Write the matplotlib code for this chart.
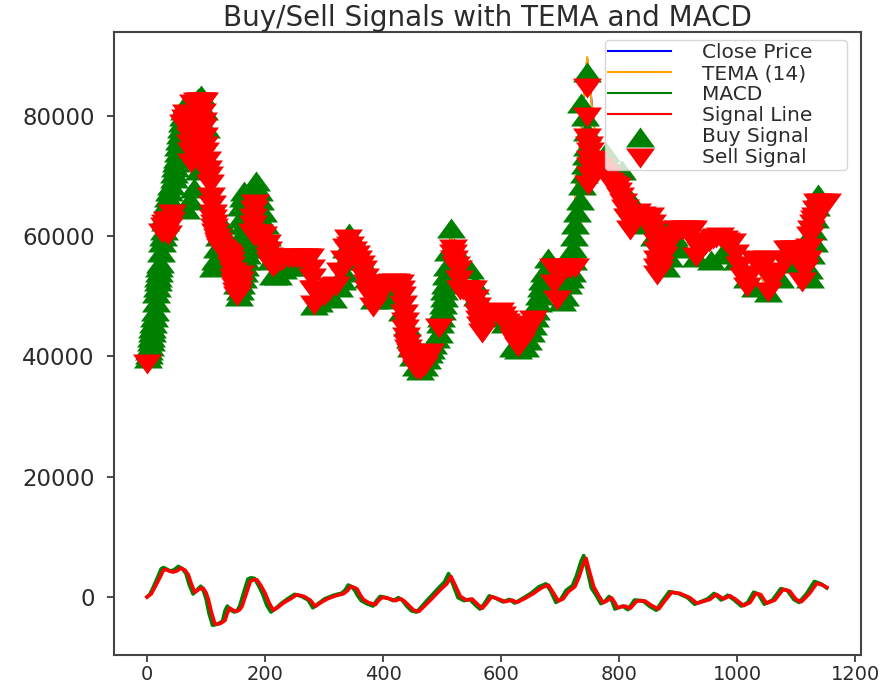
import matplotlib
matplotlib.use("Agg")
import matplotlib.pyplot as plt

close_pts = [(0,39000),(10,45500),(20,54000),(30,62000),(45,69600),(60,79000),(75,82000),(91,83500),(100,78000),(107,69000),(115,60500),(135,57200),(152,50000),(165,56000),(175,63000),(185,67000),(200,58700),(214,54800),(231,54500),(254,56300),(276,56300),(283,48500),(300,50000),(321,51800),(344,58400),(366,54300),(383,48200),(406,52100),(429,52100),(440,42000),(463,37700),(480,40600),(495,44700),(515,60000),(530,51000),(553,51000),(567,43900),(598,47400),(612,44900),(629,41600),(654,46000),(680,55500),(695,49400),(717,54700),(728,68700),(746,89500),(760,76000),(774,70500),(796,68200),(819,61000),(830,63800),(853,63200),(864,53500),(883,58000),(900,61000),(925,61000),(930,56500),(971,59800),(991,58900),(1017,51500),(1028,56000),(1053,50700),(1085,57700),(1110,52400),(1132,63200),(1153,65500)]

tema_pts = [(0,38800),(10,45000),(20,54500),(30,62500),(45,70000),(60,79500),(75,82300),(91,84000),(100,77500),(107,68500),(115,60000),(135,57000),(152,49800),(165,56500),(175,63500),(185,67500),(200,58200),(214,54500),(231,54800),(254,56500),(276,56000),(283,48300),(300,50200),(321,52000),(344,58600),(366,54000),(383,48000),(406,52300),(429,52000),(440,41500),(463,37500),(480,41000),(495,45000),(515,60500),(530,50500),(553,51000),(567,43700),(598,47500),(612,44700),(629,41400),(654,46300),(680,56000),(695,49200),(717,55000),(728,69500),(746,89800),(760,75500),(774,70300),(796,68000),(819,60800),(830,64000),(853,63000),(864,53300),(883,58300),(900,61200),(925,60800),(930,56300),(971,60000),(991,58700),(1017,51300),(1028,56200),(1053,50500),(1085,57900),(1110,52200),(1132,63500),(1153,65700)]

macd_pts = [(0,0),(5,500),(10,1500),(18,3300),(24,4700),(28,4900),(34,4600),(40,4300),(47,4600),(53,5100),(60,4700),(66,3900),(71,2200),(78,500),(84,1100),(91,1800),(96,900),(100,-300),(105,-2700),(111,-4700),(120,-4500),(128,-4000),(132,-2300),(136,-1500),(142,-2200),(148,-2500),(153,-2200),(157,-1500),(164,800),(171,3000),(176,3200),(182,3100),(189,1900),(196,500),(203,-1400),(210,-2500),(218,-1900),(227,-1100),(238,-300),(250,450),(262,100),(273,-500),(281,-1800),(290,-1100),(301,-300),(316,300),(330,650),(336,1200),(341,2000),(347,1700),(352,1100),(357,200),(363,-600),(372,-1100),(383,-1500),(389,-600),(395,100),(406,-100),(417,-600),(426,-100),(433,-600),(440,-1500),(448,-2300),(457,-2500),(466,-1500),(477,-300),(494,1500),(504,2500),(511,3900),(518,2200),(527,-100),(537,-600),(547,-400),(556,-1300),(564,-2000),(571,-1200),(580,200),(591,-200),(603,-800),(614,-400),(623,-1000),(637,-200),(651,650),(664,1700),(676,2200),(684,1000),(693,-900),(701,-400),(710,1100),(721,1900),(728,3600),(735,5800),(740,6900),(746,4500),(753,1500),(761,300),(769,-1100),(776,-700),(783,100),(788,-700),(793,-2000),(806,-1500),(815,-2100),(826,-500),(840,-600),(851,-1500),(863,-2200),(873,-700),(885,900),(899,650),(916,-100),(928,-1200),(950,-300),(961,600),(973,-500),(984,300),(995,-500),(1007,-1500),(1018,-900),(1028,800),(1036,500),(1046,-1200),(1060,-500),(1074,1400),(1085,1100),(1096,-400),(1105,-900),(1118,600),(1131,2600),(1142,2200),(1152,1500)]

signal_pts = [(0,0),(7,500),(14,1770),(22,3300),(28,4500),(33,4540),(38,4300),(44,4150),(51,4350),(57,4800),(64,4500),(70,3700),(75,2200),(81,780),(88,1300),(95,1500),(100,700),(104,-440),(109,-2500),(115,-4490),(124,-4400),(132,-3900),(136,-2700),(140,-1830),(146,-2200),(152,-2400),(157,-2100),(161,-1550),(168,500),(175,2600),(180,2850),(186,2880),(193,1900),(200,660),(207,-1000),(214,-2200),(222,-1700),(231,-1000),(243,-300),(254,390),(266,100),(277,-550),(285,-1550),(295,-900),(305,-330),(319,200),(333,550),(340,1100),(345,1770),(351,1600),(356,1330),(361,400),(367,-440),(376,-950),(387,-1270),(393,-500),(399,-55),(410,-250),(421,-610),(430,-280),(437,-750),(444,-1440),(452,-2200),(461,-2380),(470,-1500),(481,-440),(498,1300),(508,2200),(515,3430),(523,1800),(531,110),(541,-500),(551,-330),(560,-1200),(568,-1880),(575,-1100),(584,55),(595,-300),(607,-780),(618,-500),(627,-890),(641,-200),(655,610),(668,1500),(680,2000),(688,800),(697,-660),(705,-300),(714,890),(725,1720),(732,3300),(739,5400),(744,6430),(750,4200),(757,1720),(765,300),(773,-940),(780,-600),(787,-110),(792,-800),(797,-1770),(810,-1500),(819,-1880),(830,-660),(844,-660),(855,-1400),(867,-2000),(877,-700),(889,780),(903,610),(920,-110),(932,-1050),(954,-390),(965,440),(977,-330),(988,220),(999,-500),(1011,-1440),(1022,-900),(1032,610),(1040,400),(1050,-1050),(1064,-500),(1078,1270),(1089,1000),(1100,-400),(1109,-780),(1122,500),(1135,2270),(1145,2000),(1152,1610)]

buy_pts = [(2,39700),(3,40400),(4,41000),(5,41800),(6,42500),(7,43300),(8,44000),(9,44800),(10,45500),(12,46500),(13,47500),(15,49000),(16,50500),(17,51500),(18,52500),(19,53300),(20,54000),(21,54800),(22,55500),(24,57300),(25,59000),(27,60000),(28,61000),(30,62500),(31,63500),(33,64500),(34,65500),(36,66500),(38,67500),(41,68500),(45,69600),(46,70500),(47,71500),(49,72300),(50,73000),(52,74000),(53,75000),(55,76000),(56,77000),(58,78000),(59,79000),(61,80000),(63,81000),(65,81700),(68,82300),(75,82000),(82,82500),(87,83000),(91,83500),(96,81000),(100,78000),(95,74000),(88,71000),(80,68000),(72,66000),(66,64500),
(112,54800),(115,56000),(118,58000),(122,60000),(127,62000),(132,60000),(138,58000),(146,55000),(152,52000),(156,50100),(158,51000),(160,52000),(162,53000),(164,54000),(166,55000),(168,56000),(169,57000),(170,58000),(169,59000),(168,60000),(166,61000),(165,62000),(163,63000),(162,63500),(160,65000),(162,66500),(165,67500),(176,67800),(185,69200),(189,67500),(192,66000),(196,64000),(200,62000),(203,60000),(207,58000),(210,56000),(214,53500),(222,53500),(231,54500),(240,55000),(250,55500),(262,55000),
(283,48500),(292,49000),(300,50000),(315,49800),(325,51500),(330,52800),(333,54000),(335,56000),(338,58000),(342,60600),(350,57500),(362,56000),(375,53000),(385,49500),(398,51500),(415,49500),(432,47500),(440,45000),(445,43000),(448,41500),(450,40000),(455,38500),(463,37700),(470,38500),(474,39500),(478,40500),(482,41200),(485,42000),(490,43000),(494,43900),(497,45500),(499,46500),(500,47700),(502,48800),(503,49900),(504,51000),(505,52000),(507,53500),(508,55000),(510,57500),(515,61300),(520,58000),(530,55500),(548,54500),(555,52000),(560,50000),(572,47500),(590,46500),(606,45500),(620,41500),(629,41200),(640,41500),(646,42800),(650,44000),(654,45300),(658,46500),(660,47800),(663,49000),(665,50300),(668,51500),(670,52800),(672,54000),(680,56400),(690,52000),(703,49200),(708,50000),(714,52000),(717,53000),(720,54000),(722,56000),(722,58000),(724,60000),(726,62000),(728,64000),(733,66000),(738,68500),(740,70500),(742,72000),(744,73500),(746,75000),(746,77500),(742,80000),(736,82100),(746,87300),
(778,74000),(790,71500),(805,71000),(820,66000),(836,62000),(860,60000),(870,60500),(878,61000),(880,54900),(885,56500),(893,60000),(905,58000),(930,56500),(955,56000),(975,57000),(1000,56000),(1017,53000),(1030,51500),(1053,50700),(1072,53000),(1090,55500),(1108,57000),(1124,53000),(1122,54500),(1126,57000),(1130,59000),(1128,61000),(1132,63000),(1134,65000),(1137,67000)]

sell_pts = [(0,38700),(25,60500),(28,61500),(30,62100),(33,62500),(36,60200),(38,61500),(40,62500),(43,63700),
(61,78700),(64,79500),(66,80300),(68,79000),(70,78000),(72,76500),(73,75400),(74,74000),(75,72200),(78,82000),(84,82300),(90,82300),(93,82300),(97,82300),(93,80500),(94,79000),(95,78000),(96,76500),(97,75000),(99,74000),(101,72500),(103,71000),(105,70000),(107,68700),(109,66500),(110,65200),(111,63700),(112,62900),(113,62100),(114,61300),(115,60500),(118,59700),(120,59000),(122,58500),(124,58000),(127,57800),(130,57500),(135,57200),(138,56800),(140,56500),(142,55800),(143,55000),(145,54000),(146,53100),(148,52300),(149,51500),(151,50800),(152,50000),(154,50800),(155,51500),(157,52500),(158,53500),
(183,65300),(182,64300),(180,63100),(179,61800),(178,60500),(182,60000),(186,60300),(190,60300),(197,60000),(203,58700),(205,57500),(206,56500),(209,55700),(212,55000),(214,54800),(220,55500),(226,55800),(231,56000),(240,56300),(247,56300),(254,56300),(260,56300),(266,56300),(271,56300),(276,56300),(278,54500),(280,53000),(281,51000),(283,48500),(285,51000),(290,50500),(295,50300),(300,50000),(306,50800),(312,51500),(321,51800),(327,54000),(333,56000),(337,58000),(340,59500),(344,58400),(349,57500),(354,56800),(358,56000),(362,55200),(366,54300),(369,53000),(372,52000),(375,51000),(378,50000),(383,48200),(387,49000),(390,50000),(394,51000),(398,52000),(406,52100),(415,52300),(422,52200),(429,52100),(431,51000),(432,50000),(434,48500),(436,47000),(437,45700),(438,44500),(439,43200),(440,42000),(442,41300),(445,40600),(447,39800),(450,39000),(455,38000),(463,37700),(470,38500),(475,39500),(480,40600),(495,44700),
(518,57900),(519,57000),(521,56000),(524,55100),(527,54300),(528,52700),(530,51000),(535,51000),(540,51000),(547,51000),(553,51000),(556,49500),(559,48200),(561,47000),(563,46000),(565,45000),(567,43900),(571,45000),(575,46000),(580,46500),(585,47000),(592,47300),(598,47400),(602,46700),(605,46000),(608,45500),(612,44900),(616,44000),(620,43000),(625,42300),(629,41600),(633,42300),(637,43000),(641,43700),(645,44500),(650,45300),(654,46000),
(688,54700),(689,52000),(695,49400),(697,54700),(706,54700),(712,54700),(717,54700),(725,54700),
(746,84600),(746,79800),(746,76300),(749,75000),(751,74000),(751,72700),(751,71500),(750,70000),(748,68500),(755,71000),(760,72500),(767,71500),(774,70500),(780,69800),(785,69000),(790,68600),(796,68200),(799,67300),(802,66500),(806,65500),(810,64500),(814,63000),(819,61000),(825,62500),(830,63800),(838,63300),(845,63000),(853,63200),(855,62000),(858,61000),(861,60000),(864,58900),(864,57500),(864,56000),(864,54700),(864,53500),(867,54200),(870,55000),(876,56700),(883,58500),(892,60000),(900,61000),(906,61000),(912,61000),(918,61000),(925,61000),(927,59000),(930,56500),(937,57500),(945,58500),(952,59000),(960,59500),(965,59700),(971,59800),(977,59300),(982,59000),(991,58900),(997,57000),(1003,55000),(1010,53200),(1017,51500),(1022,53500),(1028,56000),(1034,55800),(1040,55500),(1045,55800),(1050,56000),(1051,53500),(1053,50700),(1060,52500),(1070,54000),(1078,56000),(1085,57700),(1090,57700),(1096,57700),(1101,57700),(1106,57700),(1108,55000),(1110,52400),(1115,54500),(1120,56000),(1122,58000),(1123,60000),(1126,61000),(1128,62000),(1130,62700),(1132,63200),(1134,64300),(1135,65500),(1142,65500),(1152,65500)]

labels = ["Close Price", "TEMA (14)", "MACD", "Signal Line", "Buy Signal", "Sell Signal"]
title = "Buy/Sell Signals with TEMA and MACD"

W, H = 890, 684
INK = "#2b2b2b"
plt.rcParams["font.family"] = "DejaVu Sans"
fig = plt.figure(figsize=(W / 100, H / 100), dpi=100)
ax = fig.add_axes([114 / W, (684 - 655) / H, (861 - 114) / W, (655 - 32) / H])

def xs(pts):
    return [p[0] for p in pts]

def ys(pts):
    return [p[1] for p in pts]

ax.plot(xs(close_pts), ys(close_pts), color="blue", lw=1.5, label=labels[0])
ax.plot(xs(tema_pts), ys(tema_pts), color="orange", lw=1.5, label=labels[1])
ax.plot(xs(macd_pts), ys(macd_pts), color="green", lw=2.6, label=labels[2])
ax.plot(xs(signal_pts), ys(signal_pts), color="red", lw=2.6, label=labels[3])
# the reference was stretched sideways, so its triangles are wider than tall
up = [(-1, -0.69), (1, -0.69), (0, 0.69)]
down = [(-1, 0.69), (1, 0.69), (0, -0.69)]
ax.scatter(xs(buy_pts), ys(buy_pts), marker=up, s=436, color="green", linewidths=0, label=labels[4], zorder=3)
ax.scatter(xs(sell_pts), ys(sell_pts), marker=down, s=436, color="red", linewidths=0, label=labels[5], zorder=4)

ax.set_xlim(-56, 1210)
ax.set_ylim(-9640, 93960)
ax.set_xticks([0, 200, 400, 600, 800, 1000, 1200])
ax.set_yticks([0, 20000, 40000, 60000, 80000])
ax.tick_params(axis="x", labelsize=14, length=5, width=1.2, color=INK, labelcolor=INK, pad=2)
ax.tick_params(axis="y", labelsize=16.5, length=5, width=1.2, color=INK, labelcolor=INK, pad=9)
for s in ax.spines.values():
    s.set_linewidth(1.5)
    s.set_color("#444444")
ax.set_title(title, fontsize=20, color=INK, pad=3)

leg = ax.legend(loc="upper left",
                bbox_to_anchor=((605 - 114) / 747, (655 - 40) / 623, (847 - 605) / 747, 0),
                mode="expand", borderaxespad=0, fontsize=14.5, handlelength=3.15,
                handletextpad=1.5, labelspacing=0.1, borderpad=0.15, framealpha=0.8)
leg.set_zorder(10)
for t in leg.get_texts():
    t.set_color(INK)
for line in leg.get_lines():
    line.set_linewidth(1.5)

fig.savefig("out.png", dpi=100)
